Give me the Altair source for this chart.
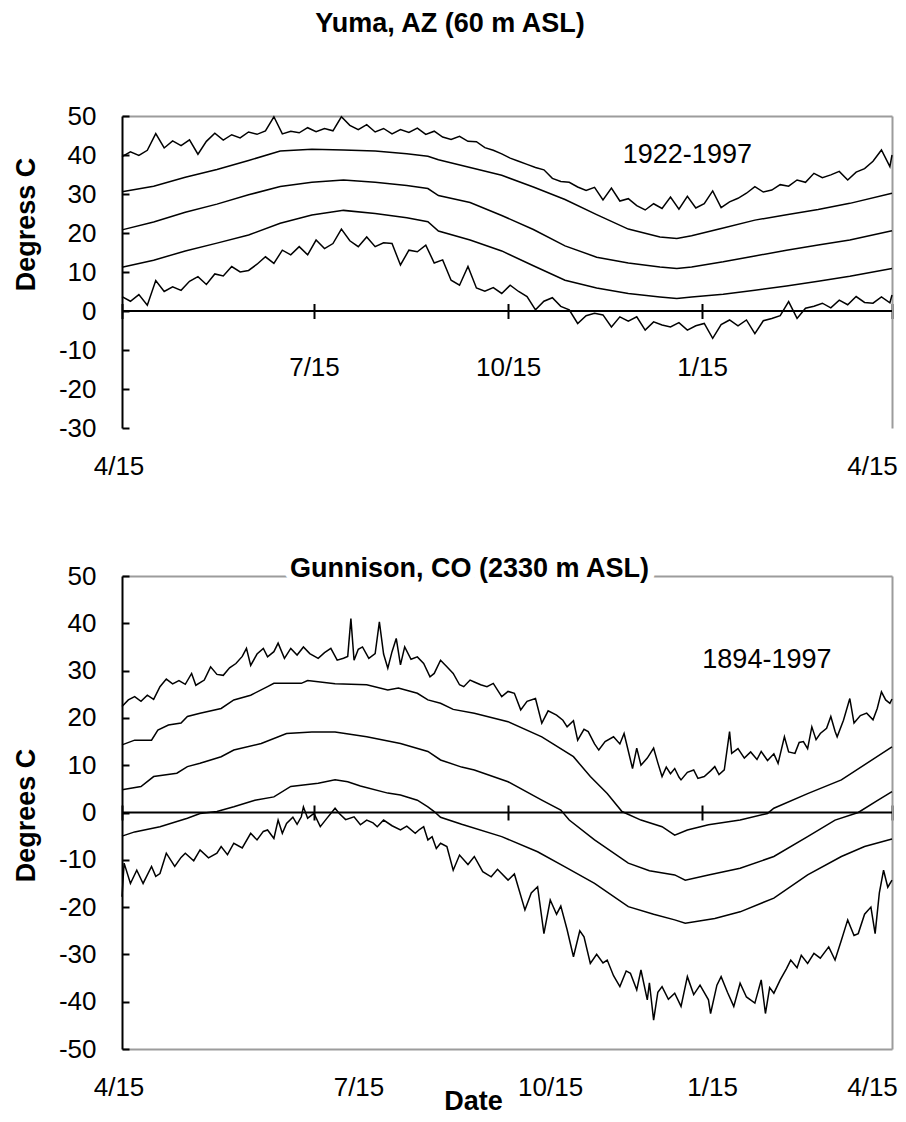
import altair as alt
import pandas as pd

FONT = "Liberation Sans"
BORDER = "#9c9c9c"
PLOT_W = 770

# x position = days after 4/15
tick_days = [0, 91, 183, 275, 365]
tick_labels = ["4/15", "7/15", "10/15", "1/15", "4/15"]

# ---------------- Yuma, AZ ----------------
yuma_title = "Yuma, AZ (60 m ASL)"
yuma_period = "1922-1997"
yuma_period_at = (268, 40.0)
yuma_yticks = [-30, -20, -10, 0, 10, 20, 30, 40, 50]

yuma_noisy_days = [0, 4, 8, 12, 16, 20, 24, 28, 32, 36, 40, 44, 48, 52, 56, 60, 64, 68, 72, 76,
                   80, 84, 88, 92, 96, 100, 104, 108, 112, 116, 120, 124, 128, 132, 136, 140, 144,
                   148, 152, 156, 160, 164, 168, 172, 176, 180, 184, 188, 192, 196, 200, 204, 208,
                   212, 216, 220, 224, 228, 232, 236, 240, 244, 248, 252, 256, 260, 264, 268, 272,
                   276, 280, 284, 288, 292, 296, 300, 304, 308, 312, 316, 320, 324, 328, 332, 336,
                   340, 344, 348, 352, 356, 360, 364, 365]
yuma_record_max = [39.6, 40.8, 39.9, 41.2, 45.5, 41.8, 43.6, 42.4, 43.9, 40.2,
                    43.5, 45.6, 43.8, 45.2, 44.4, 45.9, 45.3, 46.2, 49.8, 45.4,
                    46.1, 45.7, 47.0, 46.0, 46.8, 46.2, 49.8, 47.6, 46.5, 47.8,
                    45.9, 46.8, 45.4, 46.5, 45.8, 46.9, 45.3, 46.1, 44.6, 44.0,
                    44.8, 43.5, 43.4, 41.9, 41.2, 40.3, 39.2, 38.4, 37.6, 36.8,
                    36.2, 34.0, 33.2, 33.0, 31.8, 30.9, 31.7, 28.5, 31.5, 28.2,
                    28.8, 27.0, 25.9, 27.5, 26.3, 29.2, 26.1, 29.4, 26.4, 27.5,
                    30.8, 26.5, 28.0, 28.9, 30.2, 31.9, 30.5, 31.0, 32.4, 32.0,
                    33.6, 33.0, 35.3, 34.2, 34.9, 35.8, 33.6, 35.6, 36.5, 38.4,
                    41.3, 37.0, 40.0]
yuma_record_min = [3.7, 2.5, 4.2, 1.5, 7.8, 5.0, 6.2, 5.3, 7.6, 8.8,
                   6.8, 9.5, 9.0, 11.4, 10.0, 10.4, 12.0, 13.9, 12.2, 15.6,
                   14.4, 16.5, 14.4, 18.2, 16.0, 17.3, 21.0, 18.0, 16.5, 19.0,
                   16.5, 17.5, 17.3, 11.8, 15.6, 15.2, 16.9, 12.3, 13.1, 7.9,
                   6.6, 11.4, 5.9, 5.1, 6.0, 4.5, 6.6, 5.0, 3.7, 0.3,
                   2.5, 3.4, 1.2, 0.3, -3.2, -1.2, -0.6, -1.0, -4.1, -1.5,
                   -2.6, -1.5, -4.9, -2.8, -3.6, -4.1, -3.0, -4.9, -3.8, -3.2,
                   -7.0, -3.5, -2.3, -3.8, -2.3, -5.8, -2.5, -1.9, -1.2, 2.4,
                   -1.9, 0.7, 1.2, 2.0, 0.8, 2.8, 1.6, 3.7, 2.2, 2.0,
                   3.6, 2.1, 4.1]
yuma_smooth_days = [0, 15, 30, 45, 60, 75, 90, 105, 120, 135, 145, 150, 165, 180, 195, 210,
                    225, 240, 255, 263, 270, 285, 300, 315, 330, 345, 365]
yuma_mean_max = [30.6, 32.0, 34.3, 36.3, 38.6, 41.0, 41.5, 41.3, 41.0, 40.3, 39.7, 38.8, 36.8,
                 34.8, 31.8, 28.6, 24.7, 21.0, 19.0, 18.6, 19.3, 21.3, 23.3, 24.7, 26.0, 27.6, 30.2]
yuma_mean = [20.8, 22.8, 25.3, 27.4, 29.8, 31.9, 33.0, 33.6, 33.0, 32.2, 31.4, 29.6, 27.8,
             24.5, 20.9, 16.7, 13.8, 12.3, 11.3, 10.9, 11.3, 12.6, 14.1, 15.6, 16.9, 18.2, 20.6]
yuma_mean_min = [11.2, 13.0, 15.4, 17.4, 19.5, 22.5, 24.6, 25.8, 25.0, 23.9, 22.9, 20.5, 18.2,
                 15.4, 11.6, 7.9, 5.9, 4.5, 3.6, 3.2, 3.6, 4.3, 5.3, 6.4, 7.6, 8.9, 10.9]

# ---------------- Gunnison, CO ----------------
gun_title = "Gunnison, CO (2330 m ASL)"
gun_period = "1894-1997"
gun_period_at = (305.7, 32.2)
gun_yticks = [-50, -40, -30, -20, -10, 0, 10, 20, 30, 40, 50]

gun_rmax_days = [0, 3, 6, 9, 12, 15, 18, 21, 24, 27, 30, 33, 35, 39, 42, 45, 48, 51, 54, 57,
                 59, 61, 64, 67, 69, 72, 74, 77, 80, 83, 86, 89, 93, 96, 99, 102, 105, 107, 108.5, 110,
                 112, 114, 117, 120, 122, 124, 126, 128, 130, 132, 134, 137, 140, 143, 146, 148, 151, 154, 157, 160,
                 162, 165, 167, 170, 173, 176, 180, 183, 186, 189, 192, 196, 199, 202, 206, 209, 211, 214, 216, 219,
                 221, 224, 226, 229, 233, 236, 238, 240, 242, 244, 246, 249, 252, 254, 256, 258, 260, 262, 264, 265,
                 268, 271, 273, 276, 279, 281, 283, 285.5, 288, 289, 292, 295, 298, 301, 303, 306, 309, 311, 314, 316,
                 319, 321, 323, 325, 327, 329, 331, 334, 336, 338, 339, 342, 345, 347, 350, 353, 356, 358, 360, 362,
                 364, 365]
gun_record_max = [22.4, 23.8, 24.5, 23.5, 24.8, 23.9, 26.6, 28.2, 27.2, 27.9,
                  27.1, 29.4, 26.9, 28.0, 30.8, 29.2, 29.0, 30.6, 31.5, 33.0,
                  34.7, 31.1, 33.5, 34.7, 32.9, 34.0, 35.8, 32.6, 34.7, 33.3,
                  35.0, 33.6, 32.6, 33.8, 34.7, 32.2, 32.6, 33.0, 41.0, 32.2,
                  34.5, 35.0, 32.6, 33.6, 40.3, 33.5, 30.5, 34.0, 36.8, 31.2,
                  35.0, 32.4, 32.9, 31.5, 28.7, 29.4, 32.2, 30.8, 29.4, 27.0,
                  26.6, 28.0, 27.6, 27.0, 26.6, 27.3, 24.5, 25.6, 25.2, 21.7,
                  23.5, 24.1, 18.9, 21.5, 20.6, 19.5, 18.1, 19.4, 15.3, 17.6,
                  17.1, 14.5, 13.2, 15.0, 16.0, 14.5, 16.7, 13.0, 9.3, 13.6,
                  10.0, 11.5, 13.6, 10.5, 7.6, 9.6, 8.2, 9.3, 7.5, 6.9,
                  8.5, 9.0, 7.2, 7.6, 8.8, 9.7, 8.0, 9.0, 17.1, 12.5,
                  13.5, 11.5, 12.8, 11.2, 12.9, 11.0, 12.4, 10.4, 16.0, 12.8,
                  12.5, 14.8, 15.0, 13.5, 18.1, 15.4, 16.7, 17.8, 20.3, 17.2,
                  16.0, 19.5, 24.1, 18.9, 20.5, 21.0, 19.6, 22.0, 25.5, 23.8,
                  23.1, 24.0]
gun_rmin_days = [0, 1, 4, 7, 10, 14, 16, 18, 21, 25, 28, 30, 34, 37, 41, 45, 47, 50, 53, 57,
                 61, 64, 67, 69, 72, 74, 76, 78, 81, 83, 85, 86, 88, 91, 94, 97, 101, 103, 106, 110,
                 113, 116, 119, 121, 124, 128, 132, 135, 139, 141, 143, 145, 147, 149, 151, 154, 157, 160, 164, 167,
                 171, 175, 178, 183, 186, 191, 194, 197, 200, 203, 206, 208, 211, 214, 217, 219, 222, 225, 228, 230,
                 233, 236, 239, 241, 244, 246, 249, 250, 252, 254, 256, 259, 262, 265, 268, 271, 274, 278, 279, 282,
                 284, 287, 290, 293, 296, 300, 303, 305, 307, 309, 312, 315, 317, 320, 322, 325, 328, 331, 335, 338,
                 341, 344, 347, 349, 352, 355, 357, 359, 361, 363, 365]
gun_record_min = [-17.8, -10.7, -15.0, -12.2, -15.0, -11.4, -13.5, -12.9, -8.6, -11.4,
                  -9.5, -8.6, -10.2, -7.9, -9.6, -8.6, -7.2, -8.9, -6.5, -7.5,
                  -4.4, -5.8, -4.0, -3.7, -5.5, -1.6, -4.4, -2.3, -1.0, -2.5,
                  -0.9, 1.2, -1.2, -0.2, -3.0, -1.3, 0.9, -0.2, -1.5, -0.9,
                  -2.6, -1.6, -2.2, -3.0, -1.6, -2.8, -3.7, -2.9, -4.4, -3.6,
                  -3.0, -5.8, -5.1, -7.6, -6.5, -7.2, -12.2, -9.0, -11.0, -9.3,
                  -12.5, -13.6, -12.0, -14.3, -13.0, -20.6, -17.0, -15.7, -25.6, -18.5,
                  -21.5, -19.8, -24.8, -30.5, -25.0, -26.3, -31.9, -30.0, -31.8, -31.2,
                  -34.5, -36.8, -33.5, -34.0, -37.5, -33.3, -39.6, -36.0, -43.9, -38.0,
                  -36.8, -39.5, -38.2, -41.0, -34.7, -38.5, -36.5, -39.6, -42.5, -36.5,
                  -34.7, -38.0, -41.0, -36.1, -39.0, -40.3, -35.4, -42.5, -37.0, -38.2,
                  -35.4, -33.0, -31.2, -32.8, -30.2, -31.9, -29.8, -30.8, -28.4, -31.2,
                  -27.0, -22.7, -26.0, -25.6, -21.5, -20.0, -25.6, -17.0, -12.2, -15.8,
                  -14.3]
gun_mmax_days = [0, 6, 14, 17, 22, 28, 31, 37, 47, 53, 61, 69, 72, 85, 88, 101, 116, 126, 131, 140,
                 145, 151, 157, 167, 183, 199, 214, 222, 230, 237, 246, 256, 262, 268, 278, 293, 306,
                 309, 325, 341, 353, 365]
gun_mean_max = [14.3, 15.3, 15.3, 17.4, 18.5, 18.9, 20.3, 21.0, 22.0, 23.8, 24.8, 26.6, 27.3, 27.3,
                27.9, 27.2, 27.0, 25.9, 26.3, 25.2, 23.8, 23.1, 21.8, 21.0, 19.2, 16.0, 11.8, 7.6, 4.0,
                0.2, -1.6, -3.0, -4.8, -3.7, -2.6, -1.6, -0.2, 0.9, 4.0, 6.9, 10.4, 13.9]
gun_mean_days = [0, 9, 15, 26, 31, 37, 47, 53, 66, 78, 90, 101, 116, 132, 145, 151, 161, 167, 183,
                 199, 208, 212, 224, 240, 250, 262, 267, 278, 293, 309, 325, 338, 349, 358, 365]
gun_mean = [4.8, 5.5, 7.6, 8.3, 9.7, 10.4, 11.8, 13.2, 14.6, 16.7, 17.0, 17.0, 16.0, 14.6, 12.9,
            11.1, 9.6, 9.0, 6.5, 2.6, 0.5, -1.6, -5.8, -10.7, -12.3, -13.2, -14.3, -13.2, -11.8,
            -9.3, -5.1, -1.6, 0.0, 2.5, 4.4]
gun_mmin_days = [0, 6, 18, 31, 37, 45, 53, 63, 72, 80, 93, 101, 107, 113, 126, 132, 140, 145, 148,
                 151, 161, 180, 197, 210, 224, 240, 252, 262, 267, 281, 293, 309, 325, 341, 352, 365]
gun_mean_min = [-5.0, -4.1, -3.0, -1.2, -0.2, 0.2, 1.2, 2.6, 3.3, 5.5, 6.2, 6.9, 6.5, 5.6, 4.1,
                3.7, 2.6, 1.2, 0.2, -1.0, -2.5, -5.1, -8.3, -11.5, -15.0, -19.9, -21.5, -22.7,
                -23.4, -22.4, -21.0, -18.1, -13.2, -9.3, -7.2, -5.6]

# horizontal shift (px) of each bottom date label relative to its tick
bottom_label_shift = [-3.5, 44.5, 42, 10, -20]


def long_df(series):
    frames = []
    for name, days, vals in series:
        assert len(days) == len(vals), name
        frames.append(pd.DataFrame({"day": days, "temp": vals, "series": name}))
    return pd.concat(frames, ignore_index=True)


def label_expr(pairs):
    expr = "''"
    for d, lab in reversed(pairs):
        expr = f"datum.value == {d} ? '{lab}' : {expr}"
    return expr


def shift_condition(days):
    conds = [{"test": f"datum.value == {d}", "value": s}
             for d, s in zip(tick_days, bottom_label_shift) if d in days and s != 0]
    return {"condition": conds, "value": 0}


LABEL_PAD_BOTTOM = 25


def panel(df, ydom, height, yticks, ytitle, ytitle_y, note, note_at, mid_labeled,
          bottom_labeled, bottom_border, xtitle, title_text, title_at, halo):
    xs = alt.Scale(domain=[tick_days[0], tick_days[-1]], nice=False, zero=False)
    ys = alt.Scale(domain=ydom, nice=False, zero=False)
    zero_y = height * ydom[1] / (ydom[1] - ydom[0])
    tick_len = 15
    lab = dict(labelFont=FONT, labelFontSize=26, labelColor="black")

    mid_pairs = [(d, l) for d, l in zip(tick_days, tick_labels) if d in mid_labeled]
    mid_axis = alt.Axis(orient="bottom", offset=zero_y - tick_len / 2 - height, zindex=0,
                        domain=False, grid=False, ticks=True, tickSize=tick_len, tickWidth=2,
                        tickColor="black", values=tick_days, labels=bool(mid_pairs),
                        labelExpr=label_expr(mid_pairs), labelPadding=36, labelFlush=False,
                        title=None, **lab)
    left_ticks = alt.Axis(orient="left", offset=-7, zindex=0, domain=False, grid=False,
                          ticks=True, tickSize=7, tickWidth=2, tickColor="black", values=yticks,
                          labelExpr="datum.value + ''", labelPadding=26, title=None, **lab)

    lines = alt.Chart(df).mark_line(color="black", strokeWidth=1.5).encode(
        x=alt.X("day:Q", scale=xs, axis=mid_axis),
        y=alt.Y("temp:Q", scale=ys, axis=left_ticks),
        detail="series:N",
    )

    bottom_pairs = [(d, l) for d, l in zip(tick_days, tick_labels) if d in bottom_labeled]
    bkw = dict(orient="bottom", zindex=0, grid=False, ticks=False, tickSize=0,
               domain=bottom_border, domainColor=BORDER, domainWidth=2,
               values=[d for d, _ in bottom_pairs], labelExpr=label_expr(bottom_pairs),
               labelPadding=LABEL_PAD_BOTTOM, labelFlush=False,
               labelOffset=shift_condition(bottom_labeled), **lab)
    if xtitle:
        bkw.update(title=xtitle, titleFont=FONT, titleFontSize=27, titleFontWeight="bold",
                   titleColor="black", titleX=351, titleY=60, titleAlign="center",
                   titleBaseline="alphabetic")
    else:
        bkw["title"] = None
    left_line = alt.Axis(orient="left", zindex=0, domain=True, domainColor="black", domainWidth=2,
                         ticks=False, labels=False, grid=False, title=ytitle, titleFont=FONT,
                         titleFontSize=27, titleFontWeight="bold", titleColor="black",
                         titleX=-96, titleY=ytitle_y, titleAlign="center", titleBaseline="middle")

    axis_df = pd.DataFrame({"d0": [tick_days[0]], "d1": [tick_days[-1]], "t": [0]})
    zero = alt.Chart(axis_df).mark_rule(color="black", strokeWidth=2).encode(
        x=alt.X("d0:Q", scale=xs, axis=alt.Axis(**bkw)),
        x2="d1:Q",
        y=alt.Y("t:Q", scale=ys, axis=left_line),
    )

    frame = dict(zindex=0, domain=True, domainColor=BORDER, domainWidth=2, ticks=False,
                 labels=False, grid=False, title=None)
    note_df = pd.DataFrame({"day": [note_at[0]], "temp": [note_at[1]], "label": [note]})
    notes = alt.Chart(note_df).mark_text(font=FONT, fontSize=27, color="black").encode(
        x=alt.X("day:Q", scale=xs, axis=alt.Axis(orient="top", **frame)),
        y=alt.Y("temp:Q", scale=ys, axis=alt.Axis(orient="right", **frame)),
        text="label:N",
    )

    layers = [lines, zero, notes]
    tdf = pd.DataFrame({"label": [title_text]})
    tstyle = dict(font=FONT, fontSize=27, fontWeight="bold", align="center", baseline="alphabetic")
    enc = dict(x=alt.value(title_at[0]), y=alt.value(title_at[1]), text="label:N")
    if halo:
        layers.append(alt.Chart(tdf).mark_text(color="white", stroke="white", strokeWidth=14,
                                               **tstyle).encode(**enc))
    layers.append(alt.Chart(tdf).mark_text(color="black", **tstyle).encode(**enc))
    return alt.layer(*layers).resolve_axis(x="independent", y="independent").properties(
        width=PLOT_W, height=height)


yuma_df = long_df([
    ("record max", yuma_noisy_days, yuma_record_max),
    ("mean max", yuma_smooth_days, yuma_mean_max),
    ("mean", yuma_smooth_days, yuma_mean),
    ("mean min", yuma_smooth_days, yuma_mean_min),
    ("record min", yuma_noisy_days, yuma_record_min),
])
gun_df = long_df([
    ("record max", gun_rmax_days, gun_record_max),
    ("mean max", gun_mmax_days, gun_mean_max),
    ("mean", gun_mean_days, gun_mean),
    ("mean min", gun_mmin_days, gun_mean_min),
    ("record min", gun_rmin_days, gun_record_min),
])

top = panel(yuma_df, [-30, 50], 312, yuma_yticks, "Degress C", 108, yuma_period, yuma_period_at,
            [91, 183, 275], [0, 365], False, None, yuma_title, (328, -84), False)
bottom = panel(gun_df, [-50, 50], 473, gun_yticks, "Degrees C", 239, gun_period, gun_period_at,
               [], tick_days, True, "Date", gun_title, (347.5, 1), True)

chart = alt.vconcat(top, bottom, spacing=76).properties(
    padding={"left": 3, "top": 2, "right": 0, "bottom": 1}
).configure_view(strokeWidth=0)

chart.save("out.html", embed_options={"renderer": "svg", "actions": False})
